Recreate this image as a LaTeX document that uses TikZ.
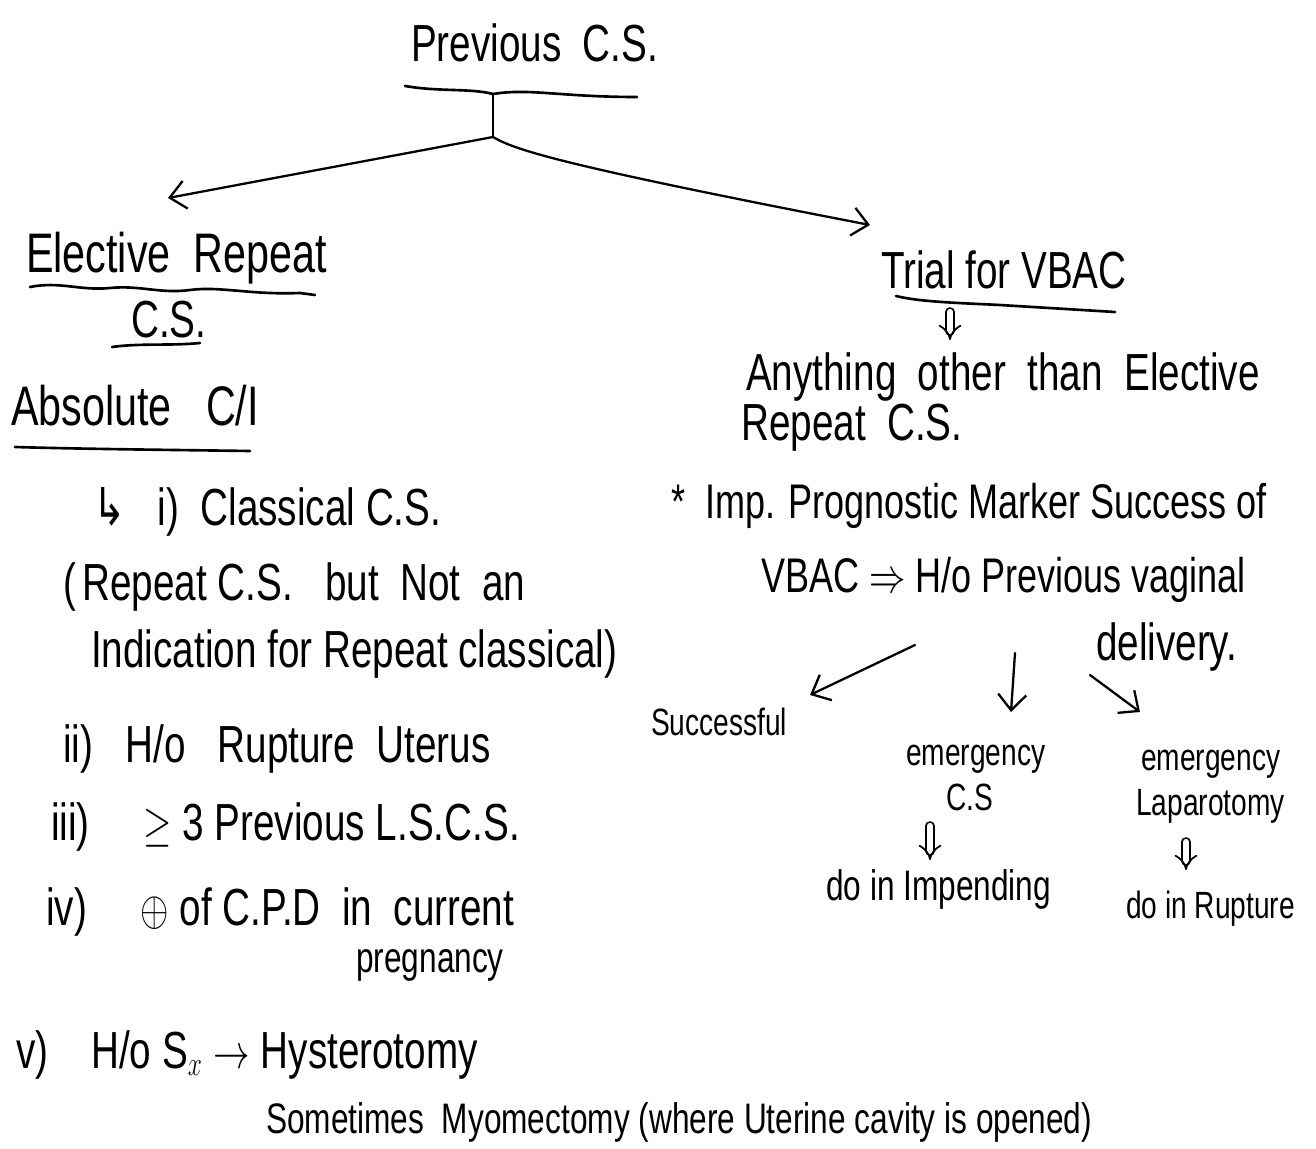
\documentclass[tikz,border=0pt]{standalone}
\usepackage{fontspec}
\setmainfont{Liberation Sans}
\newfontfamily\symfont{DejaVu Sans}
\usetikzlibrary{arrows.meta}

\begin{document}
\begin{tikzpicture}[x=0.02cm, y=-0.02cm, line width=1.3pt, line cap=round, line join=round,
  hw/.style={anchor=base west, inner sep=0pt, yscale=1.35, transform shape,
    font=\fontsize{22}{26}\selectfont},
  hwbig/.style={hw, font=\fontsize{23.5}{28}\selectfont},
  hwmid/.style={hw, font=\fontsize{20.5}{25}\selectfont},
  hwsmall/.style={hw, font=\fontsize{18}{22}\selectfont},
  hwtiny/.style={hw, font=\fontsize{16}{20}\selectfont},
  barb/.style={-{Straight Barb[length=9pt,width=16pt,line width=1.3pt]}},
  dblarrow/.style={double, line width=1pt, double distance=3.5pt, -{Implies[length=8pt]}},
  uline/.style={line width=1.5pt}]
\useasboundingbox (0,0) rectangle (1316,1149);

% ---------- root ----------
\node[hw] (root) at (410,62) {Previous\ \ C.S.};
\draw[uline] (405,86) .. controls (440,92) and (470,88) .. (493,94)
  .. controls (530,88) and (560,97) .. (637,97);
\coordinate (stem) at (493,94);
\coordinate (fork) at (493,137);
\draw (stem) -- (fork);

% ---------- left branch ----------
\coordinate (ltip) at (168,198);
\draw[barb] (fork) -- (ltip);

\node[hwbig] (elective) at (25,272) {Elective\ \ Repeat};
\draw[uline] (30,287) .. controls (60,281) and (80,291) .. (110,288)
  .. controls (140,285) and (160,294) .. (190,290)
  .. controls (220,286) and (250,295) .. (300,293) -- (315,295);
\node[hw] (cs1) at (130,337) {C.S.};
\draw[uline] (112,347) .. controls (140,343) and (170,346) .. (200,343);

\node[hwbig] (absci) at (10,425) {Absolute\ \ \ C/I};
\draw[uline] (15,447) .. controls (80,449) and (180,450) .. (250,451);

\node[hw] (item1) at (92,525) {{\symfont ↳}\ \ \ i)\ \ Classical\ C.S.};
\node[hw] (item1b) at (62,600) {(\,Repeat C.S.\ \ \ but\ \ Not\ \ an};
\node[hw] (item1c) at (90,667) {Indication\ for\ Repeat\ classical)};
\node[hw] (item2) at (62,762) {ii)\ \ \ H/o\ \ \ Rupture\ \ Uterus};
\node[hw] (item3) at (50,840) {iii)\ \ \ \ \ $\geq$ 3\ Previous\ L.S.C.S.};
\node[hw] (item4) at (45,925) {iv)\ \ \ \ \ $\oplus$\ of\ C.P.D\ \ in\ \ current};
\node[hwsmall] (item4b) at (355,972) {pregnancy};
\node[hw] (item5) at (15,1068) {v)\ \ \ \ H/o S$_x$ $\rightarrow$\ Hysterotomy};
\node[hwsmall] (item5b) at (265,1133) {Sometimes\ \ Myomectomy (where Uterine cavity is opened)};

% ---------- right branch ----------
\coordinate (rtip) at (870,225);
\draw[barb] (fork) .. controls (515,150) and (560,165) .. (rtip);

\node[hw] (trial) at (880,288) {Trial for VBAC};
\draw[uline] (896,296) .. controls (920,302) and (960,303) .. (1000,305) -- (1115,312);
\coordinate (t1) at (950,312);
\coordinate (t2) at (950,340);
\draw[dblarrow] (t1) -- (t2);

\node[hw] (anything) at (745,390) {Anything\ \ other\ \ than\ \ Elective};
\node[hw] (repeat) at (740,440) {Repeat\ \ C.S.};
\node[hwmid] (marker) at (670,518) {*\ \ Imp. Prognostic Marker Success of};
\node[hwmid] (vbac) at (760,592) {VBAC $\Rightarrow$ H/o Previous vaginal};
\node[hw] (delivery) at (1095,660) {delivery.};

% outcomes
\node[hwtiny] (success) at (650,735) {Successful};
\node[hwtiny] (emcs) at (905,765) {emergency};
\node[hwtiny] (emcs2) at (945,810) {C.S};
\node[hwtiny] (emlap) at (1140,770) {emergency};
\node[hwtiny] (emlap2) at (1135,815) {Laparotomy};
\node[hwsmall] (impend) at (825,900) {do in Impending};
\node[hwtiny] (rupture) at (1125,918) {do in Rupture};

\coordinate (a1s) at (915,645);
\coordinate (a1e) at (810,695);
\draw[barb] (a1s) -- (a1e);
\coordinate (a2s) at (1015,653);
\coordinate (a2e) at (1011,712);
\draw[barb] (a2s) -- (a2e);
\coordinate (a3s) at (1090,675);
\coordinate (a3e) at (1140,712);
\draw[barb] (a3s) -- (a3e);

\coordinate (c1) at (930,826);
\coordinate (c2) at (930,860);
\draw[dblarrow] (c1) -- (c2);
\coordinate (d1) at (1186,842);
\coordinate (d2) at (1186,870);
\draw[dblarrow] (d1) -- (d2);
\end{tikzpicture}
\end{document}
